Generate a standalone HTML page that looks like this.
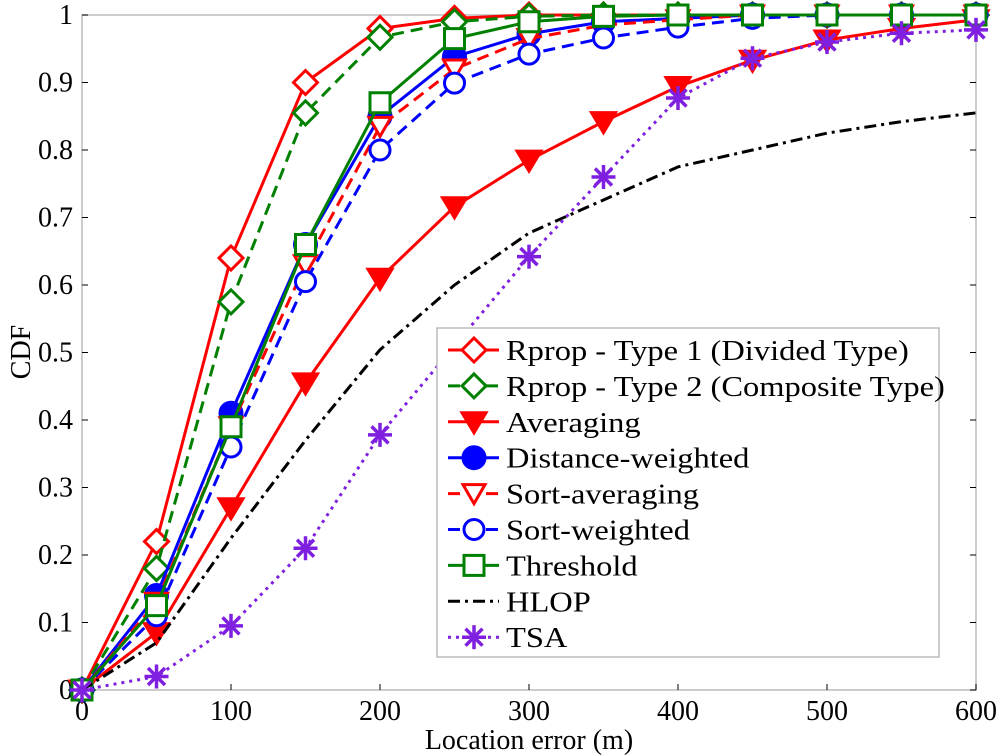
<!DOCTYPE html>
<html><head><meta charset="utf-8"><style>
html,body{margin:0;padding:0;background:#fff}
svg{display:block}
text{font-family:"Liberation Serif",serif;fill:#000}
</style></head><body>
<svg id="chart" width="1000" height="756" viewBox="0 0 1000 756" xmlns="http://www.w3.org/2000/svg">
<rect x="82" y="15" width="894" height="675" fill="#fff" stroke="#bbb" stroke-width="1.5"/>
<g id="ticks"></g>
<g id="series"></g>
<text x="529" y="749" font-size="28" text-anchor="middle">Location error (m)</text>
<text transform="translate(30,352) rotate(-90)" font-size="28" text-anchor="middle">CDF</text>
<g id="legend"></g>
</svg>
<script>
const xValues=[0,50,100,150,200,250,300,350,400,450,500,550,600];
const xTicks=[0,100,200,300,400,500,600];
const yTicks=[0,0.1,0.2,0.3,0.4,0.5,0.6,0.7,0.8,0.9,1];
const yTickLabels=["0","0.1","0.2","0.3","0.4","0.5","0.6","0.7","0.8","0.9","1"];
const seriesNames=["Rprop - Type 1 (Divided Type)","Rprop - Type 2 (Composite Type)","Averaging","Distance-weighted","Sort-averaging","Sort-weighted","Threshold","HLOP","TSA"];
const rprop1=[0,0.22,0.64,0.90,0.98,0.995,1,1,1,1,1,1,1];
const rprop2=[0,0.18,0.575,0.855,0.967,0.99,0.998,1,1,1,1,1,1];
const averaging=[0,0.085,0.27,0.455,0.61,0.716,0.785,0.842,0.894,0.933,0.963,0.98,0.993];
const distWeighted=[0,0.14,0.41,0.66,0.85,0.938,0.972,0.99,0.995,1,1,1,1];
const sortAveraging=[0,0.13,0.39,0.63,0.835,0.92,0.965,0.985,0.993,1,1,1,1];
const sortWeighted=[0,0.11,0.36,0.605,0.80,0.899,0.942,0.966,0.982,0.995,1,1,1];
const threshold=[0,0.125,0.39,0.66,0.87,0.965,0.99,0.998,1,1,1,1,1];
const hlop=[0,0.07,0.225,0.37,0.504,0.6,0.677,0.726,0.775,0.80,0.825,0.842,0.855];
const tsa=[0,0.02,0.095,0.21,0.378,0.51,0.642,0.76,0.877,0.936,0.96,0.973,0.978];

const NS="http://www.w3.org/2000/svg";
const X0=82,X1=976,Y0=690,Y1=15;
function sx(v){return X0+(v-0)/(600-0)*(X1-X0);}
function sy(v){return Y0-(v-0)/(1-0)*(Y0-Y1);}
function mk(tag,attrs,parent){const e=document.createElementNS(NS,tag);for(const k in attrs)e.setAttribute(k,attrs[k]);parent.appendChild(e);return e;}

const tg=document.getElementById('ticks');
xTicks.forEach(v=>{
  const x=sx(v);
  const t=mk('line',{x1:x,y1:Y0,x2:x,y2:Y0-6,stroke:'#000','stroke-width':1},tg);
  
  
  const lb=mk('text',{x:x,y:720,'font-size':28,'text-anchor':'middle'},tg);
  lb.textContent=v;
  
  
});
yTicks.forEach((v,i)=>{
  const y=sy(v);
  const t=mk('line',{x1:X0,y1:y,x2:X0+6,y2:y,stroke:'#000','stroke-width':1},tg);
  
  
  const t2=mk('line',{x1:X1,y1:y,x2:X1-6,y2:y,stroke:'#000','stroke-width':1},tg);
  
  
  const lb=mk('text',{x:73,y:y+9,'font-size':28,'text-anchor':'end'},tg);
  lb.textContent=yTickLabels[i];
  
  
});

const styles=[
 {data:rprop1,color:'#ff0000',dash:'',marker:'diamond'},
 {data:rprop2,color:'#008000',dash:'12,7',marker:'diamond'},
 {data:averaging,color:'#ff0000',dash:'',marker:'tri-fill'},
 {data:distWeighted,color:'#0000ff',dash:'',marker:'circle-fill'},
 {data:sortAveraging,color:'#ff0000',dash:'12,7',marker:'tri'},
 {data:sortWeighted,color:'#0000ff',dash:'12,7',marker:'circle'},
 {data:threshold,color:'#008000',dash:'',marker:'square'},
 {data:hlop,color:'#000000',dash:'12,5,3,5',marker:'none'},
 {data:tsa,color:'#7f1fdf',dash:'3,5',marker:'star'}
];
function marker(g,type,x,y,c){
  const w=3;
  if(type==='diamond')mk('polygon',{points:`${x},${y-12} ${x+12},${y} ${x},${y+12} ${x-12},${y}`,fill:'#fff',stroke:c,'stroke-width':w},g);
  else if(type==='tri-fill')mk('polygon',{points:`${x-12},${y-9} ${x+12},${y-9} ${x},${y+11}`,fill:c,stroke:c,'stroke-width':w},g);
  else if(type==='tri')mk('polygon',{points:`${x-11},${y-9} ${x+11},${y-9} ${x},${y+10}`,fill:'#fff',stroke:c,'stroke-width':w},g);
  else if(type==='circle-fill')mk('circle',{cx:x,cy:y,r:11,fill:c,stroke:c,'stroke-width':w},g);
  else if(type==='circle')mk('circle',{cx:x,cy:y,r:10,fill:'#fff',stroke:c,'stroke-width':w},g);
  else if(type==='square')mk('rect',{x:x-10,y:y-10,width:20,height:20,fill:'#fff',stroke:c,'stroke-width':w},g);
  else if(type==='star'){
    for(let a=0;a<4;a++){const ang=a*Math.PI/4,dx=12*Math.cos(ang),dy=12*Math.sin(ang);
      mk('line',{x1:x-dx,y1:y-dy,x2:x+dx,y2:y+dy,stroke:c,'stroke-width':3.5},g);}
  }
}
const sg=document.getElementById('series');
styles.forEach((s,i)=>{
  const g=mk('g',{},sg);
  
  
  const pts=s.data.map((v,j)=>sx(xValues[j])+','+sy(v)).join(' ');
  const pl=mk('polyline',{points:pts,fill:'none',stroke:s.color,'stroke-width':3,'stroke-dasharray':s.dash},g);
  
  
  if(s.marker!=='none')s.data.forEach((v,j)=>marker(g,s.marker,sx(xValues[j]),sy(v),s.color));
});

const lg=document.getElementById('legend');
const box=mk('rect',{x:437,y:328,width:502,height:329,fill:'#fff',stroke:'#bbb','stroke-width':1.5},lg);


styles.forEach((s,i)=>{
  const y=350+i*35.9;
  const g=mk('g',{},lg);
  
  
  mk('line',{x1:448,y1:y,x2:499,y2:y,stroke:s.color,'stroke-width':3,'stroke-dasharray':s.dash},g);
  if(s.marker!=='none')marker(g,s.marker,474,y,s.color);
  const t=mk('text',{x:0,y:0,'font-size':28,transform:`translate(506,${y+10}) scale(1.16,1)`},g);
  t.textContent=seriesNames[i];
});
</script>
</body></html>
